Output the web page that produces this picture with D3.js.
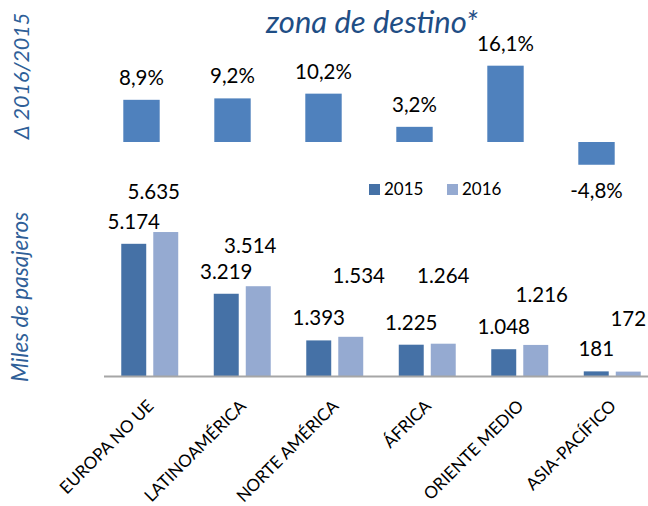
<!DOCTYPE html>
<html>
<head>
<meta charset="utf-8">
<script src="https://cdn.jsdelivr.net/npm/d3@7"></script>
<style>
  body { margin: 0; background: #fff; }
  svg { display: block; }
  text { font-family: Lato, "Open Sans", sans-serif; }
</style>
</head>
<body>
<div id="chart"></div>
<script>
var zonas = ["EUROPA NO UE", "LATINOAMÉRICA", "NORTE AMÉRICA", "ÁFRICA", "ORIENTE MEDIO", "ASIA-PACÍFICO"];
var years = ["2015", "2016"];
var pax2015 = [5174, 3219, 1393, 1225, 1048, 181];
var pax2016 = [5635, 3514, 1534, 1264, 1216, 172];
var variacion = [8.9, 9.2, 10.2, 3.2, 16.1, -4.8];

// the 2016 labels were moved by hand in the original chart
var lift2016 = [33, 33, 54, 61, 43, 46];
var shift2016 = [-12, -8, 8, 0, 6, 0];

var svgWidth = 648;
var svgHeight = 506;

var colorVar = "#4f81bd";
var colors = { "2015": "#4571a6", "2016": "#95aad1" };

var es = d3.formatLocale({ decimal: ",", thousands: ".", grouping: [3], currency: ["", "€"], minus: "-" });
var fmtPax = es.format(",d");
var fmtPct = function (v) { return es.format(".1f")(v) + "%"; };

var svg = d3
  .select("#chart")
  .append("svg")
  .attr("width", svgWidth)
  .attr("height", svgHeight);

// title + rotated axis titles
svg
  .append("text")
  .attr("x", 372)
  .attr("y", 33)
  .attr("text-anchor", "middle")
  .attr("font-size", "31px")
  .attr("font-style", "italic")
  .attr("fill", "#1f4e85")
  .text("zona de destino*");

svg
  .append("text")
  .attr("transform", "translate(29, 76) rotate(-90)")
  .attr("text-anchor", "middle")
  .attr("font-size", "21.5px")
  .attr("font-style", "italic")
  .attr("fill", "#2f5f98")
  .text("Δ 2016/2015");

svg
  .append("text")
  .attr("transform", "translate(28, 297) rotate(-90)")
  .attr("text-anchor", "middle")
  .attr("font-size", "22.5px")
  .attr("font-style", "italic")
  .attr("fill", "#2f5f98")
  .text("Miles de pasajeros");

// top chart: variation 2016/2015
var xTop = d3.scaleBand().domain(zonas).range([96, 642]).paddingInner(0.6).paddingOuter(0.3);
var yTop = d3.scaleLinear().domain([-5, 20]).range([165.7, 47.2]);

var varData = zonas.map(function (z, i) { return { zona: z, value: variacion[i] }; });

var topGroup = svg.append("g");

topGroup
  .selectAll("rect")
  .data(varData)
  .enter()
  .append("rect")
  .attr("x", (d) => xTop(d.zona))
  .attr("width", xTop.bandwidth())
  .attr("y", (d) => yTop(Math.max(0, d.value)))
  .attr("height", (d) => Math.abs(yTop(d.value) - yTop(0)))
  .attr("fill", colorVar);

topGroup
  .selectAll("text")
  .data(varData)
  .enter()
  .append("text")
  .attr("x", (d) => xTop(d.zona) + xTop.bandwidth() / 2)
  .attr("y", (d) => (d.value >= 0 ? yTop(d.value) - 15 : yTop(d.value) + 33))
  .attr("text-anchor", "middle")
  .attr("font-size", "20.5px")
  .attr("fill", "#000")
  .text((d) => fmtPct(d.value));

// bottom chart: passengers
var xBot = d3.scaleBand().domain(zonas).range([103.5, 658.5]);
var xSub = d3.scaleBand().domain(years).range([0, xBot.bandwidth()]).paddingInner(0.22).paddingOuter(0.555);
var yBot = d3.scaleLinear().domain([0, 6000]).range([376, 222.7]);

var paxData = zonas.map(function (z, i) {
  return { zona: z, i: i, values: [{ year: "2015", value: pax2015[i] }, { year: "2016", value: pax2016[i] }] };
});

var botGroup = svg.append("g");

var groups = botGroup
  .selectAll("g.zona")
  .data(paxData)
  .enter()
  .append("g")
  .attr("class", "zona")
  .attr("transform", (d) => `translate(${xBot(d.zona)}, 0)`);

groups
  .selectAll("rect")
  .data((d) => d.values)
  .enter()
  .append("rect")
  .attr("x", (d) => xSub(d.year))
  .attr("width", xSub.bandwidth())
  .attr("y", (d) => yBot(d.value))
  .attr("height", (d) => yBot(0) - yBot(d.value))
  .attr("fill", (d) => colors[d.year]);

groups
  .selectAll("text")
  .data((d) => d.values.map((v) => ({ year: v.year, value: v.value, i: d.i })))
  .enter()
  .append("text")
  .attr("x", (d) => xSub(d.year) + xSub.bandwidth() / 2 + (d.year === "2016" ? shift2016[d.i] : 0))
  .attr("y", (d) => yBot(d.value) - (d.year === "2016" ? lift2016[d.i] : 15))
  .attr("text-anchor", "middle")
  .attr("font-size", "20.5px")
  .attr("fill", "#000")
  .text((d) => fmtPax(d.value));

// x axis with rotated category names
var xAxis = d3.axisBottom(xBot).tickSize(0).tickSizeOuter(0);

var axisG = svg
  .append("g")
  .attr("transform", `translate(0, ${yBot(0)})`)
  .call(xAxis);

axisG.select(".domain").attr("stroke", "#a6a6a6").attr("stroke-width", 2);

axisG
  .selectAll(".tick text")
  .attr("x", 0)
  .attr("y", 0)
  .attr("dy", 0)
  .attr("text-anchor", "end")
  .attr("transform", "translate(5, 31) rotate(-45)")
  .attr("font-family", "Lato, 'Open Sans', sans-serif")
  .attr("font-size", "17px")
  .attr("fill", "#000");

// legend
var legend = svg
  .selectAll("g.legend")
  .data(years)
  .enter()
  .append("g")
  .attr("class", "legend")
  .attr("transform", (d, i) => `translate(${369 + i * 78}, 184)`);

legend
  .append("rect")
  .attr("width", 11)
  .attr("height", 11)
  .attr("fill", (d) => colors[d]);

legend
  .append("text")
  .attr("x", 15)
  .attr("y", 11)
  .attr("font-size", "17px")
  .attr("fill", "#000")
  .text((d) => d);
</script>
</body>
</html>
